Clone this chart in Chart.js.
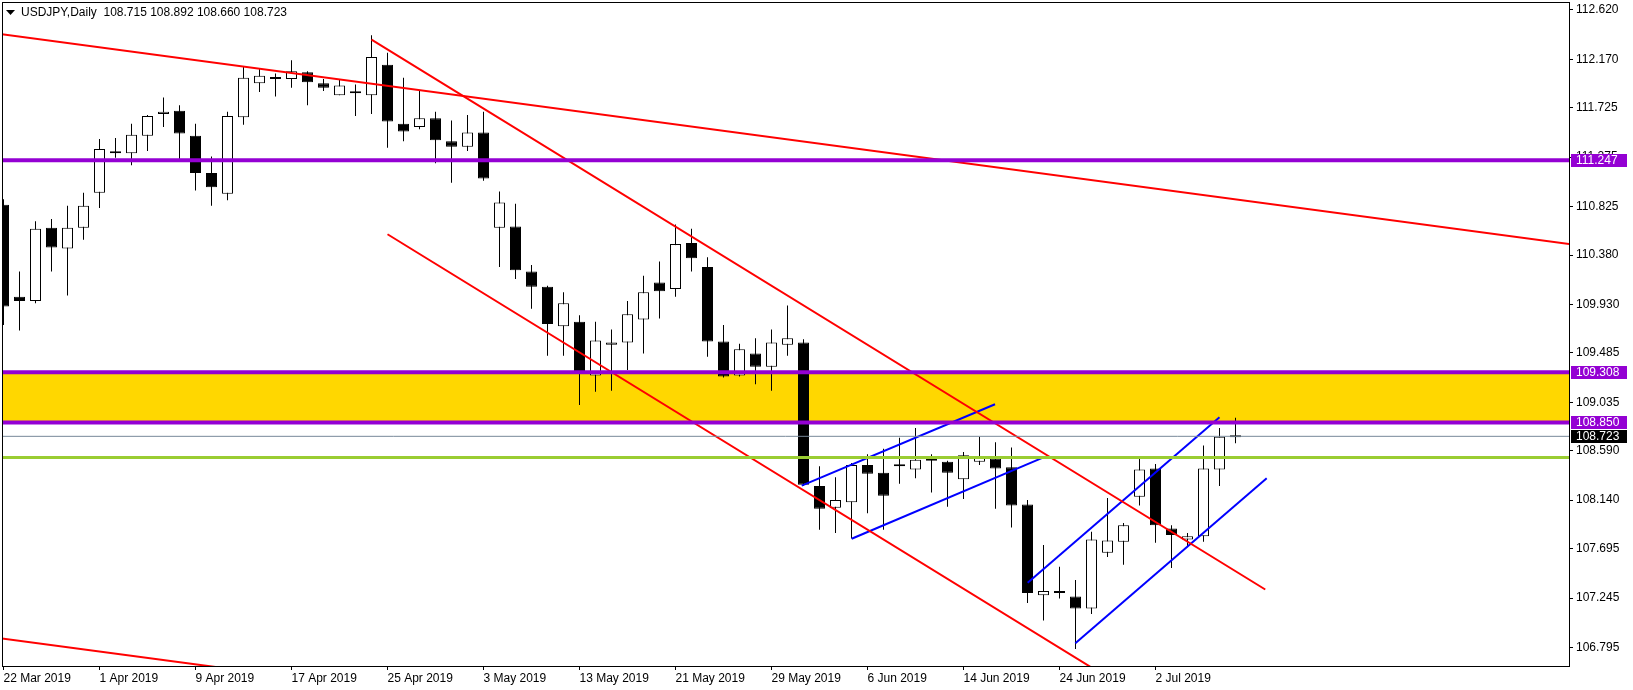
<!DOCTYPE html>
<html>
<head>
<meta charset="utf-8">
<title>USDJPY Daily</title>
<script src="https://cdn.jsdelivr.net/npm/chart.js@4.4.1/dist/chart.umd.min.js"></script>
<style>
  html, body { margin: 0; padding: 0; background: #fff; }
</style>
</head>
<body>
<canvas id="myChart" width="1633" height="690"></canvas>
<script>
// ---------------------------------------------------------------
// USDJPY daily candles, 22 Mar 2019 - 9 Jul 2019
// ---------------------------------------------------------------

const symbol = 'USDJPY,Daily'

const opens  = [110.84,110.00,109.96,110.63,110.44,110.63,110.95,111.32,111.31,111.47,
                111.67,111.70,111.47,111.13,110.94,111.64,111.95,112.00,111.99,112.05,
                111.95,111.84,111.87,111.84,112.12,111.58,111.55,111.63,111.42,111.37,
                111.50,110.63,110.64,110.23,110.09,109.73,109.77,109.28,109.56,109.58,
                109.79,110.13,110.07,110.49,110.27,109.59,109.28,109.48,109.36,109.56,
                109.58,108.27,108.07,108.12,108.46,108.39,108.46,108.42,108.51,108.49,
                108.33,108.49,108.52,108.44,108.10,107.27,107.30,107.26,107.15,107.66,
                107.76,108.17,108.43,107.88,107.78,107.81,108.42,108.715]
const highs  = [110.89,110.23,110.69,110.71,110.83,110.95,111.44,111.45,111.58,111.66,
                111.82,111.75,111.58,111.28,111.69,112.10,112.08,112.04,112.16,112.06,
                111.99,111.98,111.94,112.39,112.23,112.00,111.88,111.69,111.61,111.66,
                111.69,110.96,110.85,110.29,110.10,110.04,109.83,109.77,109.70,109.96,
                110.19,110.32,110.66,110.62,110.36,109.74,109.57,109.62,109.70,109.92,
                109.61,108.45,108.35,108.48,108.56,108.61,108.71,108.80,108.56,108.50,
                108.58,108.72,108.67,108.62,108.14,107.73,107.53,107.41,107.85,108.16,
                107.93,108.52,108.47,107.91,107.84,108.64,108.80,108.892]
const lows   = [109.74,109.69,109.94,110.23,110.01,110.52,110.81,111.27,111.20,111.33,
                111.55,111.25,110.97,110.83,110.88,111.57,111.87,111.83,111.91,111.75,
                111.88,111.84,111.65,111.67,111.36,111.42,111.53,111.22,111.04,111.33,
                111.06,110.27,110.16,109.89,109.46,109.46,109.01,109.13,109.14,109.33,
                109.48,109.80,110.00,110.23,109.45,109.26,109.27,109.20,109.14,109.46,
                108.27,107.87,107.84,107.79,108.02,107.87,108.29,108.34,108.21,108.08,
                108.15,108.46,108.06,107.89,107.20,107.04,107.24,106.78,107.10,107.62,
                107.55,108.09,107.75,107.52,107.71,107.76,108.27,108.660]
const closes = [109.91,109.96,110.62,110.45,110.63,110.83,111.35,111.31,111.48,111.65,
                111.69,111.49,111.13,111.00,111.65,112.00,112.02,111.99,112.06,111.96,
                111.91,111.93,111.86,112.19,111.60,111.51,111.63,111.43,111.37,111.50,
                111.08,110.86,110.24,110.09,109.75,109.94,109.31,109.60,109.58,109.84,
                110.04,110.05,110.48,110.35,109.59,109.27,109.52,109.36,109.58,109.62,
                108.28,108.06,108.14,108.46,108.38,108.18,108.45,108.51,108.50,108.39,
                108.55,108.53,108.43,108.09,107.29,107.31,107.29,107.15,107.78,107.77,
                107.91,108.42,107.91,107.82,107.81,108.43,108.72,108.723]

// one date label every 6 bars
const dateTicks = ['22 Mar 2019','1 Apr 2019','9 Apr 2019','17 Apr 2019','25 Apr 2019',
                   '3 May 2019','13 May 2019','21 May 2019','29 May 2019','6 Jun 2019',
                   '14 Jun 2019','24 Jun 2019','2 Jul 2019']
const priceTicks = [112.620,112.170,111.725,111.275,110.825,110.380,109.930,
                    109.485,109.035,108.590,108.140,107.695,107.245,106.795]

// horizontal levels
const violetLevels = [111.247, 109.308, 108.850]
const zone = [109.308, 108.850]
const greenLevel = 108.53
const bidLevel = closes[closes.length - 1]

// trendlines: [bar1, price1, bar2, price2]
const redLines = [
    [-0.1, 112.398, 97.9, 110.480],
    [23.0, 112.350, 78.86, 107.323],
    [24.0, 110.570, 70.0, 106.430],
    [-0.1, 106.875, 14.0, 106.600]
]
const blueLines = [
    [49.89, 108.272, 61.97, 109.016],
    [53.01, 107.787, 65.0, 108.531],
    [64.01, 107.385, 76.0, 108.897],
    [66.99, 106.831, 78.95, 108.339]
]

const xMin = -0.09375, xMax = 97.84375
const yMin = 106.6237, yMax = 112.6931
const font = { family: 'Liberation Sans', size: 12 }

function seg(s) {
    return [{ x: s[0], y: s[1] }, { x: s[2], y: s[3] }]
}
function lineSet(points, color, width) {
    return { type: 'line', data: points, borderColor: color, borderWidth: width,
             pointRadius: 0, tension: 0, fill: false, clip: 0, order: 1 }
}
// keep the plot area where MT4 puts it, no room for overhanging labels
function noPad(s) {
    s.paddingTop = 0; s.paddingBottom = 0; s.paddingLeft = 0; s.paddingRight = 0
}

const wicks = opens.map((o, i) => ({ x: i, y: [lows[i], highs[i]] }))
const bodies = opens.map((o, i) => ({ x: i, y: [o, closes[i]] }))
const bodyColors = opens.map((o, i) => closes[i] >= o ? '#ffffff' : '#000000')

const datasets = [
    { type: 'line', data: [{ x: -1, y: zone[0] }, { x: 99, y: zone[0] }],
      borderWidth: 0, pointRadius: 0, fill: { value: zone[1] },
      backgroundColor: 'rgb(255,215,0)', clip: 0, order: 10 },
    { type: 'bar', data: wicks, backgroundColor: '#000', borderWidth: 0,
      barThickness: 1, grouped: false, inflateAmount: 0, order: 6 },
    { type: 'bar', data: bodies, backgroundColor: bodyColors, borderColor: '#000',
      borderWidth: 1, borderSkipped: false, barThickness: 11, minBarLength: 2,
      grouped: false, inflateAmount: 0, order: 5 },
    lineSet([{ x: -1, y: bidLevel }, { x: 99, y: bidLevel }], 'rgb(119,136,153)', 1),
    lineSet([{ x: -1, y: greenLevel }, { x: 99, y: greenLevel }], 'rgb(154,205,50)', 3)
]
violetLevels.forEach(v => datasets.push(lineSet([{ x: -1, y: v }, { x: 99, y: v }], 'rgb(148,0,211)', 4)))
redLines.forEach(s => datasets.push(lineSet(seg(s), '#ff0000', 2)))
blueLines.forEach(s => datasets.push(lineSet(seg(s), '#0000ff', 2)))

// frame, title and the price boxes on the right axis
const mtDecor = {
    id: 'mtDecor',
    afterDraw(chart) {
        const ctx = chart.ctx
        const a = chart.chartArea
        const ys = chart.scales.y
        ctx.save()
        ctx.strokeStyle = '#000'
        ctx.lineWidth = 1
        ctx.strokeRect(a.left + 0.5, a.top + 0.5, a.right - a.left, a.bottom - a.top)

        const boxes = [
            [violetLevels[0], 'rgb(148,0,211)'],
            [violetLevels[1], 'rgb(148,0,211)'],
            [violetLevels[2], 'rgb(148,0,211)'],
            [bidLevel, '#000000']
        ]
        ctx.font = '12px "Liberation Sans"'
        ctx.textBaseline = 'middle'
        boxes.forEach(b => {
            const y = Math.round(ys.getPixelForValue(b[0]))
            ctx.fillStyle = b[1]
            ctx.fillRect(a.right + 2, y - 6, 56, 13)
            ctx.fillStyle = '#fff'
            ctx.fillText(b[0].toFixed(3), a.right + 7, y + 0.5)
        })

        const n = opens.length - 1
        ctx.fillStyle = '#000'
        ctx.beginPath()
        ctx.moveTo(6, 10); ctx.lineTo(15, 10); ctx.lineTo(10.5, 15); ctx.closePath()
        ctx.fill()
        const title = symbol + '  ' + [opens[n], highs[n], lows[n], closes[n]].map(v => v.toFixed(3)).join(' ')
        ctx.fillText(title, 21, 12.5)
        ctx.restore()
    }
}

const ctx = document.getElementById('myChart')
const config = {
    type: 'bar',
    data: { datasets: datasets },
    options: {
        responsive: false,
        animation: false,
        devicePixelRatio: 1,
        layout: { padding: { left: 2, top: 2, right: 0, bottom: 0 } },
        plugins: { legend: { display: false }, tooltip: { enabled: false } },
        scales: {
            x: {
                type: 'linear', min: xMin, max: xMax, bounds: 'data', offset: false,
                afterBuildTicks: s => { s.ticks = dateTicks.map((d, k) => ({ value: k * 6 })) },
                afterFit: s => { s.height = 24; noPad(s) },
                ticks: { callback: v => dateTicks[Math.round(v / 6)], align: 'start',
                         maxRotation: 0, autoSkip: false, color: '#000', font: font, padding: 1 },
                grid: { offset: false, drawOnChartArea: false, tickLength: 4, color: '#000' },
                border: { display: false }
            },
            y: {
                type: 'linear', position: 'right', min: yMin, max: yMax, beginAtZero: false,
                afterBuildTicks: s => { s.ticks = priceTicks.map(v => ({ value: v })) },
                afterFit: s => { s.width = 64; noPad(s) },
                ticks: { callback: v => v.toFixed(3), color: '#000', font: font, padding: 3 },
                grid: { drawOnChartArea: false, tickLength: 4, color: '#000' },
                border: { display: false }
            }
        }
    },
    plugins: [mtDecor]
}

var candles = new Chart(ctx, config)
</script>
</body>
</html>
